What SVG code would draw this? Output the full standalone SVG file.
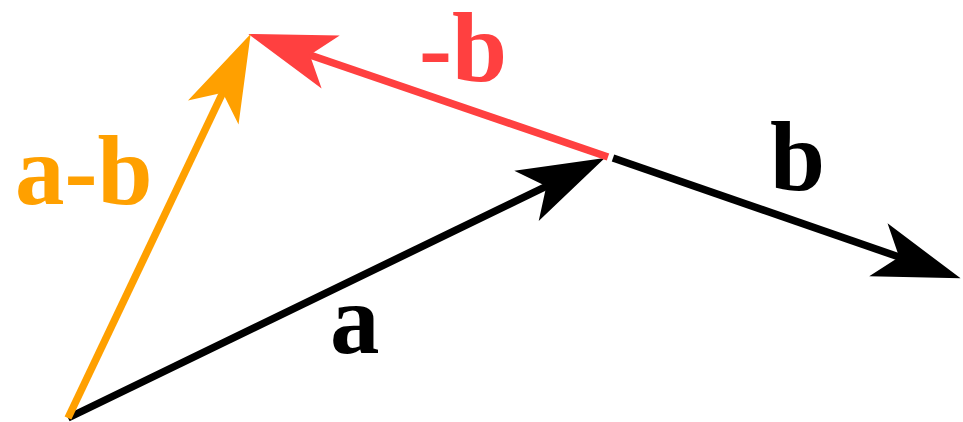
<svg xmlns="http://www.w3.org/2000/svg" width="963" height="422" viewBox="0 0 963 422">
<style>
.lbl{font-family:"Liberation Serif","Times New Roman",serif;font-weight:bold;font-size:99px}
.vec{stroke-width:7.5;fill:none}
</style>
<defs>
<marker id="hk" markerUnits="userSpaceOnUse" markerWidth="100" markerHeight="70" viewBox="0 -35 100 70" refX="25" refY="0" orient="auto"><path d="M87,0 L0,-28 L22,0 L0,28 Z" fill="#000"/></marker>
<marker id="hr" markerUnits="userSpaceOnUse" markerWidth="100" markerHeight="70" viewBox="0 -35 100 70" refX="25" refY="0" orient="auto"><path d="M87,0 L0,-28 L22,0 L0,28 Z" fill="#FF4040"/></marker>
<marker id="ho" markerUnits="userSpaceOnUse" markerWidth="100" markerHeight="70" viewBox="0 -35 100 70" refX="25" refY="0" orient="auto"><path d="M87,0 L0,-28 L22,0 L0,28 Z" fill="#FFA000"/></marker>
</defs>
<rect width="963" height="422" fill="#fff"/>
<g id="connectors">
<line id="vec-a" class="vec" x1="68" y1="418" x2="549" y2="185" stroke="#000" marker-end="url(#hk)"/>
<line id="vec-b" class="vec" x1="613" y1="158" x2="902" y2="258" stroke="#000" marker-end="url(#hk)"/>
<line id="vec-negb" class="vec" x1="608" y1="157" x2="307" y2="54" stroke="#FF4040" marker-end="url(#hr)"/>
<line id="vec-amb" class="vec" x1="68" y1="418" x2="224" y2="90" stroke="#FFA000" marker-end="url(#ho)"/>
</g>
<g id="label-a"><text class="lbl" x="330" y="353" fill="#000">a</text></g>
<g id="label-b"><text class="lbl" x="770" y="190" fill="#000">b</text></g>
<g id="label-negb"><text class="lbl" x="419" y="81" fill="#FF4040">-b</text></g>
<g id="label-amb"><text class="lbl" x="15" y="204" fill="#FFA000">a-b</text></g>
</svg>
